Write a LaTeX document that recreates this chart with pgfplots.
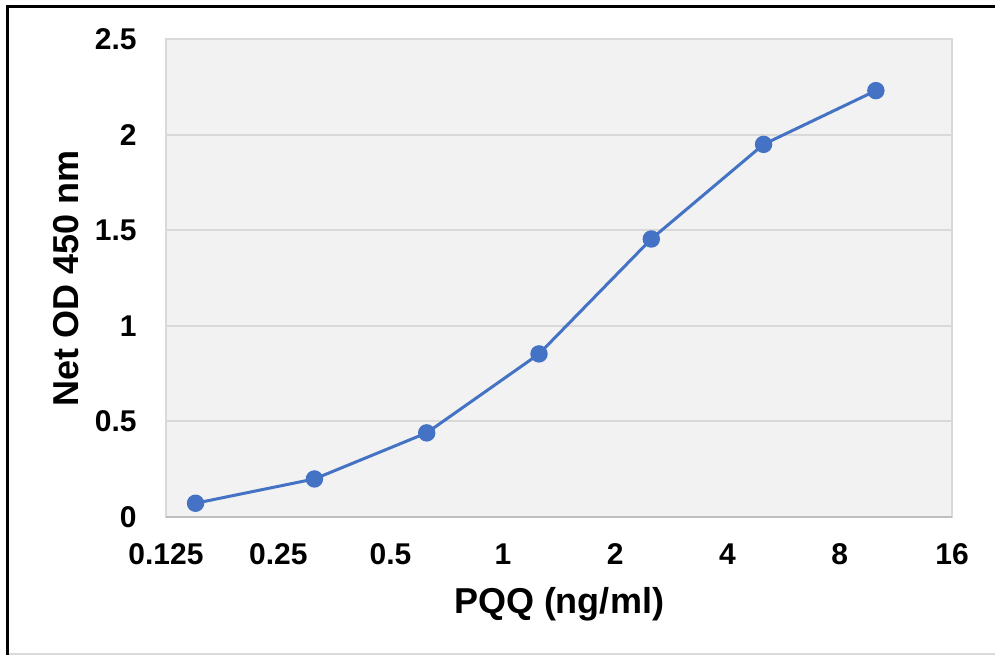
\documentclass[border=0pt]{standalone}
\usepackage{fontspec}
\setmainfont{Liberation Sans}
\usepackage{pgfplots}
\pgfplotsset{compat=1.18}
\definecolor{serblue}{HTML}{4472C4}
\definecolor{plotbg}{HTML}{F2F2F2}
\definecolor{gridgray}{HTML}{D9D9D9}
\definecolor{axisgray}{HTML}{BFBFBF}

\begin{document}
\begin{tikzpicture}
% page frame: 995 x 655 px at 0.5pt per px
\path[use as bounding box] (0pt,0pt) rectangle (497.5pt,327.5pt);
\draw[line width=1.5pt] (3.75pt,0pt) -- (3.75pt,324.25pt) -- (497.5pt,324.25pt);
\draw[gridgray, line width=0.8pt] (4.5pt,0.5pt) -- (497.5pt,0.5pt);

\begin{axis}[
  at={(83pt,69pt)}, anchor=south west,
  width=393pt, height=239pt, scale only axis,
  xmode=log, log basis x=2,
  xmin=0.125, xmax=16,
  ymin=0, ymax=2.5,
  xtick={0.125,0.25,0.5,1,2,4,8,16},
  xticklabels={0.125,0.25,0.5,1,2,4,8,16},
  ytick={0,0.5,1,1.5,2,2.5},
  yticklabels={0,0.5,1,1.5,2,2.5},
  major tick length=0pt, tick style={draw=none},
  axis line style={draw=gridgray, line width=0.8pt},
  axis background/.style={fill=plotbg},
  ymajorgrids=true,
  grid style={gridgray, line width=1pt},
  /pgf/number format/assume math mode=true,
  xticklabel style={font=\fontsize{15}{15}\selectfont\bfseries, inner sep=0pt, anchor=north, yshift=-13pt},
  yticklabel style={font=\fontsize{15}{15}\selectfont\bfseries, inner sep=0pt, anchor=east, xshift=-14.5pt},
  xlabel={PQQ (ng/ml)},
  ylabel={Net OD 450 nm},
  xlabel style={font=\fontsize{18}{18}\selectfont\bfseries, at={(axis description cs:0.5,-0.182)}, anchor=center},
  ylabel style={font=\fontsize{18}{18}\selectfont\bfseries, at={(axis description cs:-0.1272,0.5)}, anchor=center},
  clip=false,
]
\draw[axisgray, line width=1pt] (rel axis cs:0,0) -- (rel axis cs:1,0);
\addplot[color=serblue, line width=1.5pt, mark=*, mark size=3.6pt,
         mark options={fill=serblue, draw=serblue}]
  coordinates {(0.15,0.072)(0.3125,0.199)(0.625,0.44)(1.25,0.853)(2.5,1.454)(5,1.949)(10,2.23)};
\end{axis}
\end{tikzpicture}
\end{document}
